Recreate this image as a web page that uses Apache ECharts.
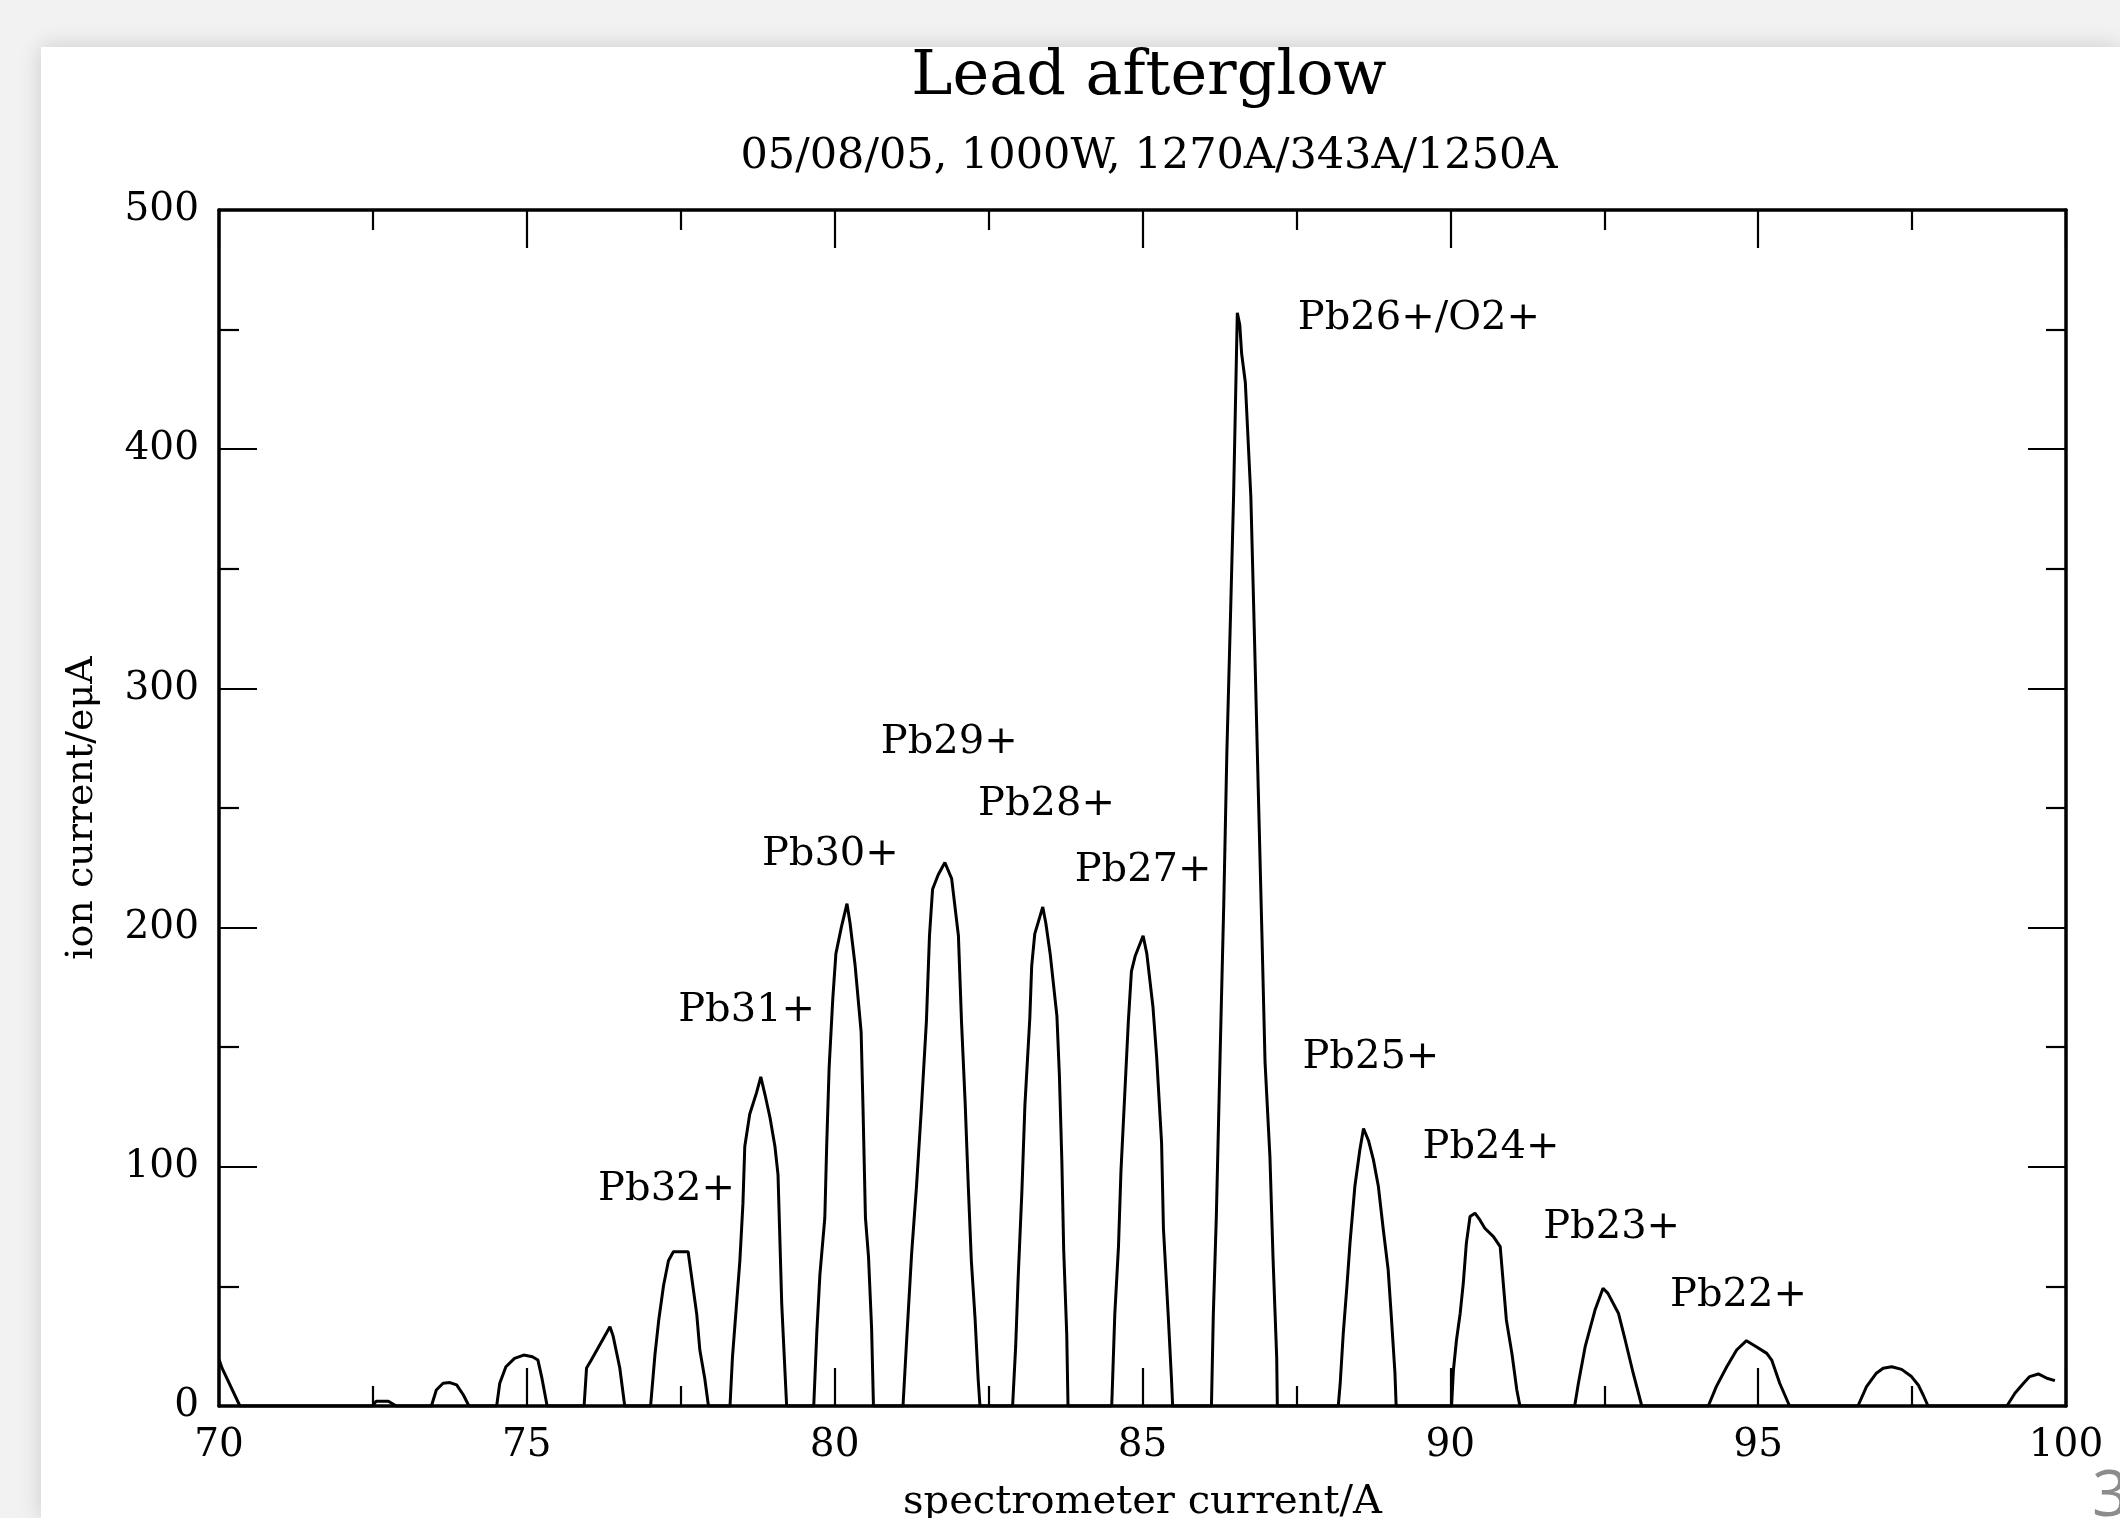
<!DOCTYPE html>
<html>
<head>
<meta charset="utf-8">
<script src="https://cdn.jsdelivr.net/npm/echarts/dist/echarts.min.js"></script>
<style>
  html, body { margin: 0; padding: 0; background: #f2f2f2; overflow: hidden; }
  #panel { position: absolute; left: 41px; top: 47px; width: 2079px; height: 1471px; background: #ffffff; box-shadow: 0 0 22px rgba(0,0,0,0.16); }
  #chart { position: absolute; left: 0; top: 0; width: 2120px; height: 1518px; }
</style>
</head>
<body>
<div id="panel"></div>
<div id="chart"></div>
<script>
// spectrometer current (A) of each trace vertex
const currentA = [
  70, 70.05, 70.34, 72.5, 72.55, 72.75, 72.88,
  73.45, 73.53, 73.64, 73.75, 73.86, 73.97, 74.06,
  74.51, 74.56, 74.66, 74.80, 74.95, 75.09, 75.18, 75.24, 75.33,
  75.93, 75.97, 76.04, 76.35, 76.40, 76.51, 76.59,
  77.01, 77.08, 77.14, 77.22, 77.30, 77.38, 77.62, 77.68, 77.76, 77.81, 77.89, 77.95,
  78.30, 78.34, 78.46, 78.51, 78.54, 78.62, 78.73, 78.80, 78.87, 78.95, 79.03, 79.08, 79.11, 79.14, 79.19, 79.22,
  79.66, 79.71, 79.76, 79.84, 79.87, 79.91, 79.97, 80.02, 80.11, 80.20, 80.25, 80.33, 80.43, 80.46, 80.50, 80.55, 80.60, 80.63,
  81.11, 81.17, 81.25, 81.33, 81.41, 81.49, 81.54, 81.59, 81.68, 81.79, 81.90, 82.01, 82.06, 82.12, 82.17, 82.22, 82.28, 82.33, 82.36,
  82.89, 82.94, 82.98, 83.04, 83.09, 83.17, 83.20, 83.25, 83.38, 83.43, 83.50, 83.55, 83.61, 83.65, 83.69, 83.72, 83.77, 83.79,
  84.50, 84.55, 84.61, 84.65, 84.71, 84.77, 84.82, 84.88, 85.01, 85.07, 85.17, 85.23, 85.31, 85.34, 85.42, 85.47, 85.49,
  86.12, 86.15, 86.20, 86.26, 86.32, 86.37, 86.43, 86.48, 86.54, 86.58, 86.61, 86.67, 86.76, 86.82, 86.88, 86.94, 86.99, 87.07, 87.12, 87.18, 87.19,
  88.18, 88.21, 88.26, 88.32, 88.37, 88.45, 88.53, 88.59, 88.67, 88.75, 88.83, 88.91, 88.99, 89.04, 89.10, 89.12,
  90.02, 90.05, 90.10, 90.16, 90.21, 90.26, 90.32, 90.40, 90.48, 90.56, 90.70, 90.81, 90.86, 90.91, 91.00, 91.08, 91.13,
  92.02, 92.08, 92.19, 92.35, 92.48, 92.56, 92.73, 92.84, 92.97, 93.11,
  94.19, 94.32, 94.49, 94.65, 94.81, 94.97, 95.14, 95.22, 95.35, 95.51,
  96.62, 96.76, 96.92, 97.03, 97.17, 97.33, 97.49, 97.60, 97.68, 97.76,
  99.04, 99.17, 99.31, 99.41, 99.55, 99.69, 99.82
];
// ion current (eµA) at each vertex
const ionCurrent = [
  19.5, 15.8, 0, 0, 2, 2, 0,
  0, 6.7, 9.5, 9.8, 8.8, 4.6, 0,
  0, 9.5, 16.4, 19.9, 21.3, 20.6, 19.2, 12.3, 0,
  0, 15.9, 18.9, 33.1, 29.4, 15.9, 0,
  0, 21.2, 35.4, 50.3, 60.7, 64.5, 64.5, 53.3, 38.3, 23.4, 11.5, 0,
  0, 20.4, 60.7, 84.6, 108.5, 122, 130.9, 137.6, 130, 120.5, 108.5, 96.6, 69.7, 42.8, 15.9, 0,
  0, 30.9, 54.8, 78.6, 108.5, 141.4, 170.5, 189.1, 200.3, 210, 201.8, 184.7, 156.3, 125, 78.6, 62.2, 32.4, 0,
  0, 27.9, 63.7, 92.1, 125, 160.8, 196.6, 216, 222, 227.2, 220.5, 196.6, 160.8, 126.4, 92.1, 60.7, 36.8, 11.5, 0,
  0, 24.9, 53.3, 89.1, 125.7, 162.3, 183.9, 197.4, 208.6, 201.8, 189.1, 177.2, 163, 138.4, 102.5, 65.2, 29.4, 0,
  0, 38.3, 66.7, 98.1, 129.4, 160.8, 181.7, 188, 196.6, 189.1, 166.8, 145.9, 110, 74.2, 36.8, 11.5, 0,
  0, 38, 80, 146, 210, 273, 331, 381, 457, 452, 440, 428, 380, 320, 258, 197, 144, 104, 62, 20, 0,
  0, 9, 30, 50, 68, 92, 107, 116, 111, 103, 92, 74, 57, 38, 14, 0,
  0, 15, 27.6, 38.8, 51.3, 68, 79.2, 80.6, 77.8, 74.3, 70.8, 66.6, 51.3, 36, 22, 6.7, 0,
  0, 9.5, 24.8, 40.1, 49.2, 47.1, 38.8, 27.6, 13.7, 0,
  0, 8.1, 16.4, 23.4, 27.3, 24.8, 22, 19.2, 9.5, 0,
  0, 8.1, 13.7, 15.8, 16.4, 15.3, 12.3, 8.8, 4.6, 0,
  0, 5.3, 9.5, 12.3, 13.4, 11.6, 10.6
];
// peak annotations (centre of each label, in data units)
const peakNames = ['Pb26+/O2+', 'Pb29+', 'Pb28+', 'Pb30+', 'Pb27+', 'Pb31+', 'Pb25+', 'Pb24+', 'Pb32+', 'Pb23+', 'Pb22+'];
const peakLabelX = [89.49, 81.86, 83.44, 79.93, 85.01, 78.57, 88.71, 90.66, 77.27, 92.62, 94.68];
const peakLabelY = [454.7, 277.4, 251.4, 230.4, 223.7, 165.1, 145.8, 108.2, 90.6, 74.7, 46.2];

const titleText = 'Lead afterglow';
const subtitleText = '05/08/05, 1000W, 1270A/343A/1250A';
const xName = 'spectrometer current/A';
const yName = 'ion current/eμA';
const slideNumber = '3';

const FONT = 'DejaVu Serif';
const trace = currentA.map((x, i) => [x, ionCurrent[i]]);
const labelPoints = peakNames.map((n, i) => ({ name: n, value: [peakLabelX[i], peakLabelY[i]] }));

const axisLineStyle = { color: '#000', width: 3.5 };
const tickStyle = { color: '#000', width: 2.2 };

function xAx(pos, showLabel) {
  return {
    type: 'value', position: pos, min: 70, max: 100, interval: 5,
    axisLine: { show: true, onZero: false, lineStyle: axisLineStyle },
    axisTick: { show: true, inside: true, length: 38, lineStyle: tickStyle },
    minorTick: { show: true, splitNumber: 2, length: 20, lineStyle: tickStyle },
    splitLine: { show: false }, minorSplitLine: { show: false },
    axisLabel: { show: showLabel, fontFamily: FONT, fontSize: 39, color: '#000', margin: 20, showMinLabel: true, showMaxLabel: true, hideOverlap: false },
    name: showLabel ? xName : '', nameLocation: 'middle', nameGap: 77, nameMoveOverlap: false,
    nameTextStyle: { fontFamily: FONT, fontSize: 40, color: '#000' }
  };
}
function yAx(pos, showLabel) {
  return {
    type: 'value', position: pos, min: 0, max: 500, interval: 100,
    axisLine: { show: true, onZero: false, lineStyle: axisLineStyle },
    axisTick: { show: true, inside: true, length: 38, lineStyle: tickStyle },
    minorTick: { show: true, splitNumber: 2, length: 20, lineStyle: tickStyle },
    splitLine: { show: false }, minorSplitLine: { show: false },
    axisLabel: { show: showLabel, fontFamily: FONT, fontSize: 39, color: '#000', margin: 20, showMinLabel: true, showMaxLabel: true, hideOverlap: false },
    name: showLabel ? yName : '', nameLocation: 'middle', nameGap: 118, nameRotate: 90, nameMoveOverlap: false,
    nameTextStyle: { fontFamily: FONT, fontSize: 38, color: '#000' }
  };
}

const chart = echarts.init(document.getElementById('chart'), null, { renderer: 'canvas' });
chart.setOption({
  backgroundColor: 'transparent',
  animation: false,
  title: [
    { text: titleText, left: 1144, top: 42, textAlign: 'center',
      textStyle: { fontFamily: FONT, fontSize: 62, fontWeight: 'normal', color: '#000' } },
    { text: subtitleText, left: 1144, top: 130, textAlign: 'center',
      textStyle: { fontFamily: FONT, fontSize: 43, fontWeight: 'normal', color: '#000' } }
  ],
  grid: { left: 219, right: 54, top: 210, bottom: 112, containLabel: false, outerBoundsMode: 'none' },
  xAxis: [xAx('bottom', true), xAx('top', false)],
  yAxis: [yAx('left', true), yAx('right', false)],
  series: [
    {
      type: 'line', data: trace, xAxisIndex: 0, yAxisIndex: 0,
      showSymbol: false, symbol: 'none', smooth: false, sampling: null,
      lineStyle: { color: '#000', width: 3 }, z: 3
    },
    {
      type: 'scatter', data: labelPoints, xAxisIndex: 0, yAxisIndex: 0,
      symbolSize: 1, itemStyle: { color: 'rgba(255,255,255,0)' },
      label: { show: true, position: 'inside', formatter: p => p.name,
        fontFamily: FONT, fontSize: 40, color: '#000', opacity: 1,
        textBorderWidth: 0, textBorderColor: 'transparent', textShadowBlur: 0 },
      emphasis: { disabled: true },
      z: 4
    }
  ],
  graphic: [
    { type: 'text', left: 2092, top: 1466, z: 10,
      style: { text: slideNumber, fontFamily: 'Open Sans', fontSize: 64, fill: '#8c8c8c' } }
  ]
});
</script>
</body>
</html>
